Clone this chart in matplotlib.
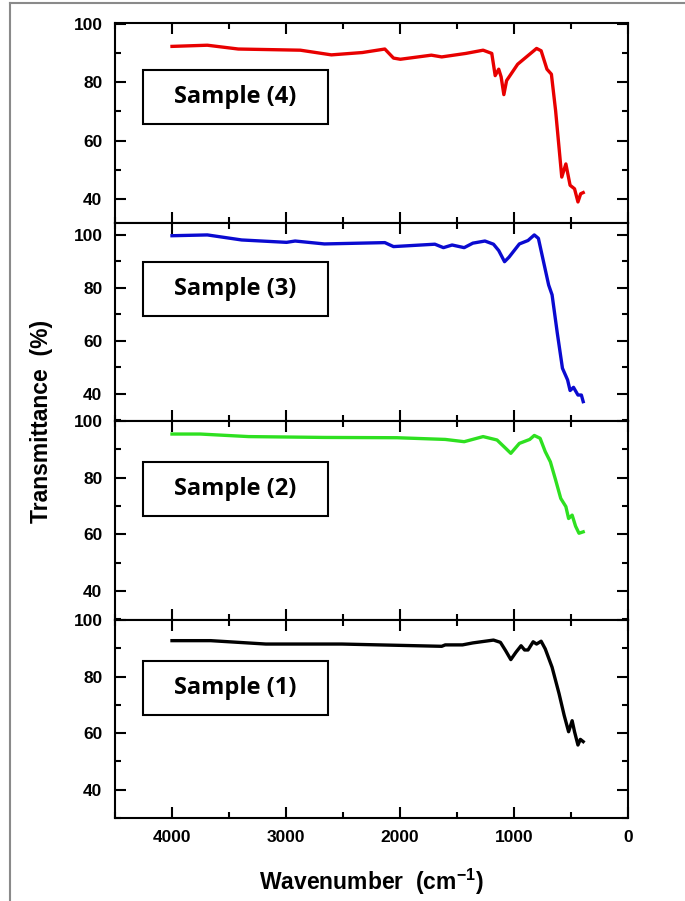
import matplotlib
matplotlib.use("Agg")
import matplotlib.pyplot as plt
from matplotlib.patches import Rectangle
from matplotlib.lines import Line2D
from matplotlib.ticker import MultipleLocator

# FTIR spectra (wavenumber cm-1, transmittance %)
wn1 = [4000, 3661, 3177, 2511, 1634, 1603, 1452, 1361, 1180, 1119, 1074, 1028, 983, 938, 907,
       877, 832, 802, 762, 726, 666, 605, 560, 521, 490, 469, 439, 418, 393]
t1 = [92.7, 92.7, 91.5, 91.5, 90.7, 91.2, 91.2, 91.9, 92.9, 92.1, 89.2, 86.0, 88.6, 90.9, 89.4,
      89.4, 92.3, 91.5, 92.5, 89.8, 83.3, 74.0, 66.3, 60.5, 64.4, 60.5, 55.8, 57.8, 57.0]

wn2 = [4000, 3752, 3328, 2663, 2027, 1603, 1437, 1271, 1149, 1074, 1028, 953, 862, 822, 771,
       726, 681, 635, 590, 545, 521, 490, 460, 430, 393]
t2 = [95.4, 95.4, 94.5, 94.2, 94.1, 93.5, 92.7, 94.5, 93.3, 90.4, 88.6, 92.1, 93.5, 94.9, 93.9,
      89.2, 85.6, 79.2, 72.7, 69.8, 65.6, 66.8, 62.9, 60.4, 60.9]

wn3 = [4000, 3690, 3389, 2995, 2920, 2663, 2133, 2057, 1694, 1619, 1543, 1437, 1361, 1255, 1180,
       1134, 1083, 1044, 953, 877, 822, 786, 741, 696, 666, 620, 575, 530, 508, 478, 439, 409, 393]
t3 = [99.7, 100.0, 98.1, 97.2, 97.7, 96.6, 97.1, 95.6, 96.5, 95.2, 96.2, 95.2, 96.9, 97.7, 96.5,
      94.1, 89.9, 91.6, 96.6, 97.9, 100.0, 98.7, 89.9, 81.1, 77.4, 62.9, 49.7, 45.3, 41.3, 42.5,
      39.6, 39.6, 37.1]

wn4 = [4000, 3690, 3419, 2874, 2602, 2330, 2133, 2057, 1997, 1725, 1634, 1422, 1271, 1195, 1165,
       1134, 1113, 1089, 1065, 968, 802, 762, 711, 672, 635, 581, 545, 508, 469, 439, 415, 393]
t4 = [92.2, 92.6, 91.3, 90.9, 89.3, 90.1, 91.3, 88.2, 87.8, 89.2, 88.6, 89.8, 90.9, 89.8, 82.2,
      84.4, 81.8, 75.7, 80.5, 86.1, 91.5, 90.7, 84.4, 82.7, 70.2, 47.5, 52.0, 44.7, 43.5, 39.0,
      41.8, 42.2]

labels = ["Sample (4)", "Sample (3)", "Sample (2)", "Sample (1)"]
colors = ["#e80000", "#0a0ad0", "#2ee020", "black"]
ylims = [(31.8, 100.2), (29.8, 104.5), (29.8, 100), (30, 100)]

W, H = 685, 901
fig = plt.figure(figsize=(W / 100, H / 100), dpi=100)

# gray frame on top and left, as in the reference
fig.add_artist(Line2D([10 / W, 1], [1 - 3 / H, 1 - 3 / H], color="#8a8a8a", lw=1.5))
fig.add_artist(Line2D([10 / W, 10 / W], [0, 1 - 3 / H], color="#8a8a8a", lw=1.5))

tops = [23, 223, 421, 620, 818]
box_tops = [70, 262, 462, 661]
box_h = 54
x0, x1 = 115, 628
series = [(wn4, t4), (wn3, t3), (wn2, t2), (wn1, t1)]
tickfont = {"family": "Liberation Sans", "weight": "bold", "size": 12.5}

for i, (wn, tr) in enumerate(series):
    top, bot = tops[i], tops[i + 1]
    ax = fig.add_axes([x0 / W, 1 - bot / H, (x1 - x0) / W, (bot - top) / H])
    ax.plot(wn, tr, color=colors[i], lw=2.4, solid_joinstyle="round")
    ax.set_xlim(4500, 0)
    ax.set_ylim(*ylims[i])
    ax.xaxis.set_major_locator(MultipleLocator(1000))
    ax.xaxis.set_minor_locator(MultipleLocator(500))
    ax.yaxis.set_major_locator(MultipleLocator(20))
    ax.yaxis.set_minor_locator(MultipleLocator(10))
    ax.tick_params(which="both", direction="in", top=True, right=True, width=1.5)
    ax.tick_params(which="major", length=8)
    ax.tick_params(which="minor", length=4.5)
    ax.tick_params(axis="y", pad=9)
    ax.tick_params(axis="x", pad=9)
    for s in ax.spines.values():
        s.set_linewidth(1.5)
    for lab in ax.get_yticklabels():
        lab.set(**tickfont)
    if i < 3:
        ax.set_xticklabels([])
    else:
        for lab in ax.get_xticklabels():
            lab.set(**tickfont)

    # sample label box, placed in pixel terms
    bt = box_tops[i]
    fy0 = (bot - (bt + box_h)) / (bot - top)
    fy1 = (bot - bt) / (bot - top)
    fx0 = (143 - x0) / (x1 - x0)
    fx1 = (328 - x0) / (x1 - x0)
    ax.add_patch(Rectangle((fx0, fy0), fx1 - fx0, fy1 - fy0, transform=ax.transAxes,
                           fill=False, ec="black", lw=1.5))
    ax.text((fx0 + fx1) / 2, (fy0 + fy1) / 2, labels[i], transform=ax.transAxes,
            ha="center", va="center", family="Open Sans", weight="bold", fontsize=17)

fig.text(42 / W, 1 - 421 / H, "Transmittance  (%)", rotation=90, ha="center", va="center",
         family="Liberation Sans", weight="bold", fontsize=16.5)
fig.text(371 / W, 1 - 882 / H, "Wavenumber  (cm$^{\\mathregular{-1}}$)", ha="center", va="center",
         family="Liberation Sans", weight="bold", fontsize=16.5)

fig.savefig("out.png", dpi=100)
